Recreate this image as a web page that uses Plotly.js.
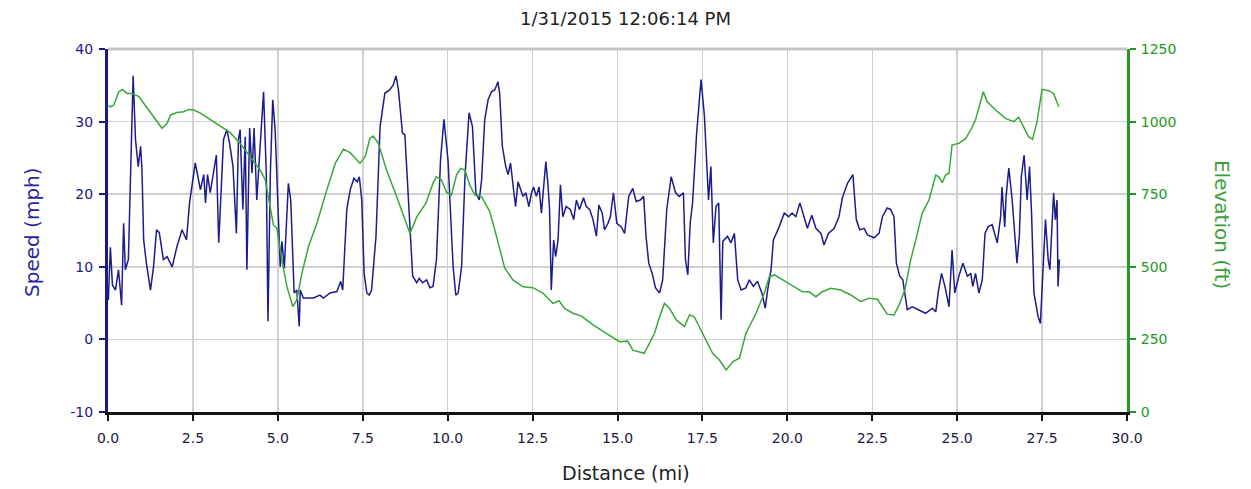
<!DOCTYPE html>
<html>
<head>
<meta charset="utf-8">
<script src="https://cdn.plot.ly/plotly-3.0.1.min.js"></script>
<style>html,body{margin:0;padding:0;background:#fff}#chart{width:1251px;height:489px}</style>
</head>
<body>
<div id="chart"></div>
<script>
const chartTitle = "1/31/2015 12:06:14 PM";
const xTitle = "Distance (mi)";
const yTitle = "Speed (mph)";
const y2Title = "Elevation (ft)";

const speedDistance = [0.01,0.07,0.13,0.22,0.31,0.40,0.46,0.51,0.60,0.74,0.81,0.89,0.96,1.00,1.05,1.13,1.25,1.34,1.43,1.51,1.63,1.74,1.89,2.03,2.18,2.31,2.40,2.57,2.72,2.82,2.87,2.93,3.01,3.19,3.26,3.40,3.50,3.58,3.68,3.78,3.84,3.89,3.97,4.04,4.09,4.17,4.24,4.30,4.38,4.48,4.58,4.66,4.71,4.78,4.85,4.92,5.02,5.07,5.12,5.19,5.31,5.38,5.48,5.56,5.63,5.66,5.75,6.05,6.24,6.34,6.54,6.74,6.85,6.91,7.03,7.13,7.24,7.34,7.40,7.47,7.54,7.62,7.69,7.76,7.89,8.01,8.15,8.30,8.40,8.48,8.55,8.67,8.74,8.87,8.97,9.09,9.16,9.26,9.38,9.48,9.57,9.67,9.79,9.89,10.01,10.16,10.24,10.31,10.41,10.51,10.63,10.73,10.83,10.93,11.00,11.09,11.19,11.29,11.39,11.48,11.53,11.61,11.71,11.78,11.85,11.95,12.00,12.07,12.14,12.22,12.30,12.39,12.47,12.53,12.61,12.69,12.76,12.89,12.95,13.00,13.05,13.12,13.18,13.25,13.32,13.39,13.49,13.61,13.71,13.79,13.88,14.00,14.08,14.18,14.28,14.38,14.45,14.55,14.62,14.72,14.79,14.88,14.98,15.11,15.21,15.33,15.45,15.55,15.67,15.77,15.84,15.92,16.02,16.12,16.24,16.33,16.45,16.58,16.71,16.82,16.94,17.00,17.07,17.14,17.21,17.33,17.46,17.56,17.68,17.75,17.82,17.90,17.98,18.05,18.10,18.24,18.34,18.44,18.54,18.64,18.78,18.88,19.00,19.12,19.25,19.35,19.42,19.52,19.59,19.68,19.76,19.91,20.04,20.14,20.25,20.37,20.47,20.59,20.72,20.84,20.99,21.08,21.21,21.38,21.52,21.62,21.77,21.93,22.03,22.13,22.26,22.36,22.55,22.70,22.80,22.94,23.04,23.14,23.21,23.31,23.40,23.53,23.68,23.87,24.07,24.27,24.37,24.44,24.54,24.64,24.76,24.85,24.93,25.05,25.17,25.30,25.40,25.46,25.54,25.64,25.74,25.82,25.91,26.03,26.18,26.28,26.32,26.40,26.44,26.52,26.62,26.70,26.76,26.83,26.89,26.97,27.06,27.13,27.19,27.26,27.32,27.38,27.45,27.50,27.60,27.68,27.73,27.79,27.84,27.89,27.94,27.97,28.01];
const speedMph = [5.4,12.7,7.5,6.8,9.6,4.7,16,9.6,11,36.3,27.5,23.8,26.6,23.4,13.7,10.5,6.8,10,15.1,14.7,11,11.4,10,12.8,15.1,13.7,18.8,24.3,20.6,22.7,18.8,22.7,20.2,25.4,13.3,27.5,28.9,27,23.8,14.6,27.5,28.9,17.9,27.9,9.6,29.1,22.9,29.1,19.2,27,34.1,22.9,2.5,22.9,33,28.9,15.5,10,13.5,9.8,21.5,19.2,6.4,6.8,1.8,6.8,5.7,5.7,6.1,5.7,6.4,6.6,8,6.8,17.9,20.6,22.2,21.7,22.4,19.2,9.1,6.4,6.1,6.8,14.2,29.3,33.9,34.4,35.1,36.3,34.4,28.4,28.2,17.9,8.7,7.8,8.4,7.8,8.2,7.1,7.3,11,24.7,30.3,24.7,10,6.1,6.4,10,22.4,31.2,29.3,20.2,19.2,22,30.2,33,34.1,34.4,35.5,33.9,26.6,23.8,22.7,24.3,20.2,18.3,21.7,20.8,19.7,20.2,18.3,20.2,21,19.7,21,17.4,24.5,21.5,17.9,6.8,13.7,11.4,13.7,21.3,16.9,18.3,17.9,16.5,19.2,17.9,19.5,18.3,17.9,16.5,14.2,18.5,17.4,15.1,16,16.9,20.2,16,15.5,14.6,19.7,20.8,19,19.2,19.7,14.2,10.5,9.1,7.1,6.4,8.2,17.9,22.4,20.2,19.7,20.2,11,8.9,16,18.8,28.4,35.8,30.7,19.2,23.8,13.3,18.3,18.8,2.7,13.5,14.2,13.3,14.6,8.2,6.8,7.1,8.2,7.3,8,6.4,4.3,6.8,9.6,13.7,14.6,15.5,17.4,16.9,17.4,16.9,18.8,17.1,15.3,17.1,15.3,14.6,13,14.6,15.3,16.9,19.5,21.5,22.7,16.5,15.1,15.3,14.4,14,14.6,16.9,18.1,17.9,16.9,10.5,8.7,8.2,4.1,4.5,4.1,3.6,4.3,3.8,6.4,9.1,7.3,4.5,12.3,6.4,8.7,10.5,8.7,9.1,7.3,9.1,6.4,8.2,14.6,15.5,15.8,13.3,16.9,21,15.5,19.7,23.6,19.2,14.2,10.5,14.2,22.4,25.4,19.2,23.8,17.4,6.4,4.5,3.2,2.2,7.3,16.5,11,9.6,15.5,20.2,16.5,19.2,7.3,11];

const elevDistance = [0.01,0.07,0.17,0.32,0.42,0.56,0.71,0.91,1.05,1.35,1.59,1.74,1.84,2.03,2.23,2.37,2.52,2.72,3.11,3.40,3.60,3.89,4.19,4.48,4.63,4.73,4.87,4.97,5.12,5.27,5.44,5.56,5.71,5.90,6.15,6.44,6.69,6.93,7.13,7.42,7.57,7.71,7.81,7.96,8.20,8.50,8.74,8.89,9.09,9.36,9.57,9.67,9.82,9.97,10.11,10.26,10.38,10.51,10.65,10.80,11.00,11.24,11.44,11.68,11.92,12.22,12.51,12.81,13.10,13.28,13.44,13.69,13.93,14.28,14.67,14.96,15.06,15.30,15.45,15.79,16.09,16.24,16.38,16.53,16.73,16.97,17.12,17.26,17.51,17.80,18.00,18.20,18.39,18.59,18.78,19.08,19.32,19.47,19.62,19.86,20.15,20.45,20.64,20.84,21.03,21.28,21.57,21.87,22.16,22.41,22.65,22.80,22.94,23.14,23.29,23.46,23.63,23.78,23.97,24.17,24.37,24.46,24.56,24.66,24.76,24.85,25.05,25.25,25.40,25.54,25.64,25.77,25.88,26.13,26.42,26.67,26.81,26.96,27.10,27.22,27.35,27.50,27.70,27.84,27.99];
const elevFeet = [1055,1051,1057,1103,1111,1097,1097,1086,1063,1017,977,994,1023,1031,1034,1042,1040,1029,1000,977,962,925,879,833,799,730,644,633,523,431,363,386,478,569,650,764,856,905,893,856,879,942,950,925,833,741,661,615,672,719,788,810,799,756,747,816,839,833,782,747,741,690,604,495,455,431,428,409,374,383,357,340,331,300,271,248,242,244,213,202,271,328,374,357,317,294,334,328,271,202,179,145,173,185,271,340,409,466,472,455,437,414,414,397,414,426,420,403,380,392,388,363,337,334,368,420,523,592,684,730,816,810,790,816,822,919,925,942,971,1006,1051,1103,1069,1040,1011,1000,1015,982,948,939,1000,1111,1106,1097,1051];

const xTicks = [0,2.5,5,7.5,10,12.5,15,17.5,20,22.5,25,27.5,30];
const xTickText = ["0.0","2.5","5.0","7.5","10.0","12.5","15.0","17.5","20.0","22.5","25.0","27.5","30.0"];
const yTicks = [-10,0,10,20,30,40];
const yTickText = ["-10","0","10","20","30","40"];
const y2Ticks = [0,250,500,750,1000,1250];
const y2TickText = ["0","250","500","750","1000","1250"];

const navy = "#1a1a8a";
const axGreen = "#229922";
const font = "DejaVu Sans, Verdana, sans-serif";

const data = [
  {x: elevDistance, y: elevFeet, yaxis: "y2", type: "scatter", mode: "lines",
   line: {color: "#38a838", width: 1.5}, hoverinfo: "skip"},
  {x: speedDistance, y: speedMph, type: "scatter", mode: "lines",
   line: {color: "#1c1c8c", width: 1.5}, hoverinfo: "skip"}
];

const layout = {
  width: 1251, height: 489,
  margin: {l: 108, r: 124, t: 49, b: 77},
  paper_bgcolor: "#fff", plot_bgcolor: "#fff",
  showlegend: false,
  font: {family: font, size: 14, color: "#222"},
  title: {text: chartTitle, x: 0.5, xref: "container", y: 1, yref: "container", yanchor: "top", pad: {t: 12},
          font: {family: font, size: 18, color: "#222"}},
  xaxis: {range: [0, 30], tickvals: xTicks, ticktext: xTickText,
          showgrid: true, gridcolor: "#d0d0d0", gridwidth: 1.5,
          showline: true, linecolor: "#111", linewidth: 3,
          ticks: "outside", ticklen: 6, tickwidth: 2, tickcolor: "#111",
          ticklabelstandoff: 5,
          tickfont: {family: font, size: 14, color: "#1a1a40"},
          zeroline: false},
  yaxis: {range: [-10, 40], tickvals: yTicks, ticktext: yTickText,
          showgrid: true, gridcolor: "#d0d0d0", gridwidth: 1.5,
          showline: true, linecolor: navy, linewidth: 3,
          ticks: "outside", ticklen: 6, tickwidth: 2, tickcolor: navy,
          ticklabelstandoff: 3,
          tickfont: {family: font, size: 14, color: navy},
          zeroline: false},
  yaxis2: {range: [0, 1250], tickvals: y2Ticks, ticktext: y2TickText, overlaying: "y", side: "right",
           showgrid: false, showline: true, linecolor: axGreen, linewidth: 3,
           ticks: "outside", ticklen: 6, tickwidth: 2, tickcolor: axGreen,
           ticklabelstandoff: 2,
           tickfont: {family: font, size: 14, color: axGreen}, zeroline: false},
  shapes: [
    {type: "line", xref: "paper", yref: "paper", x0: 0, x1: 1, y0: 1, y1: 1,
     line: {color: "#c4c4c4", width: 3}}
  ],
  annotations: [
    {text: xTitle, xref: "paper", yref: "paper", x: 0.5, xshift: 8, y: -0.168, yanchor: "middle",
     showarrow: false, font: {family: font, size: 19, color: "#222"}},
    {text: yTitle, xref: "paper", yref: "paper", x: 0, xshift: -90, y: 0.496, textangle: -90,
     showarrow: false, font: {family: font, size: 20, color: "#2828a0"}},
    {text: y2Title, xref: "paper", yref: "paper", x: 1, xshift: 109, y: 0.518, textangle: 90,
     showarrow: false, font: {family: font, size: 20, color: "#3aa03a"}}
  ]
};

Plotly.newPlot("chart", data, layout, {displayModeBar: false, staticPlot: true});
</script>
</body>
</html>
